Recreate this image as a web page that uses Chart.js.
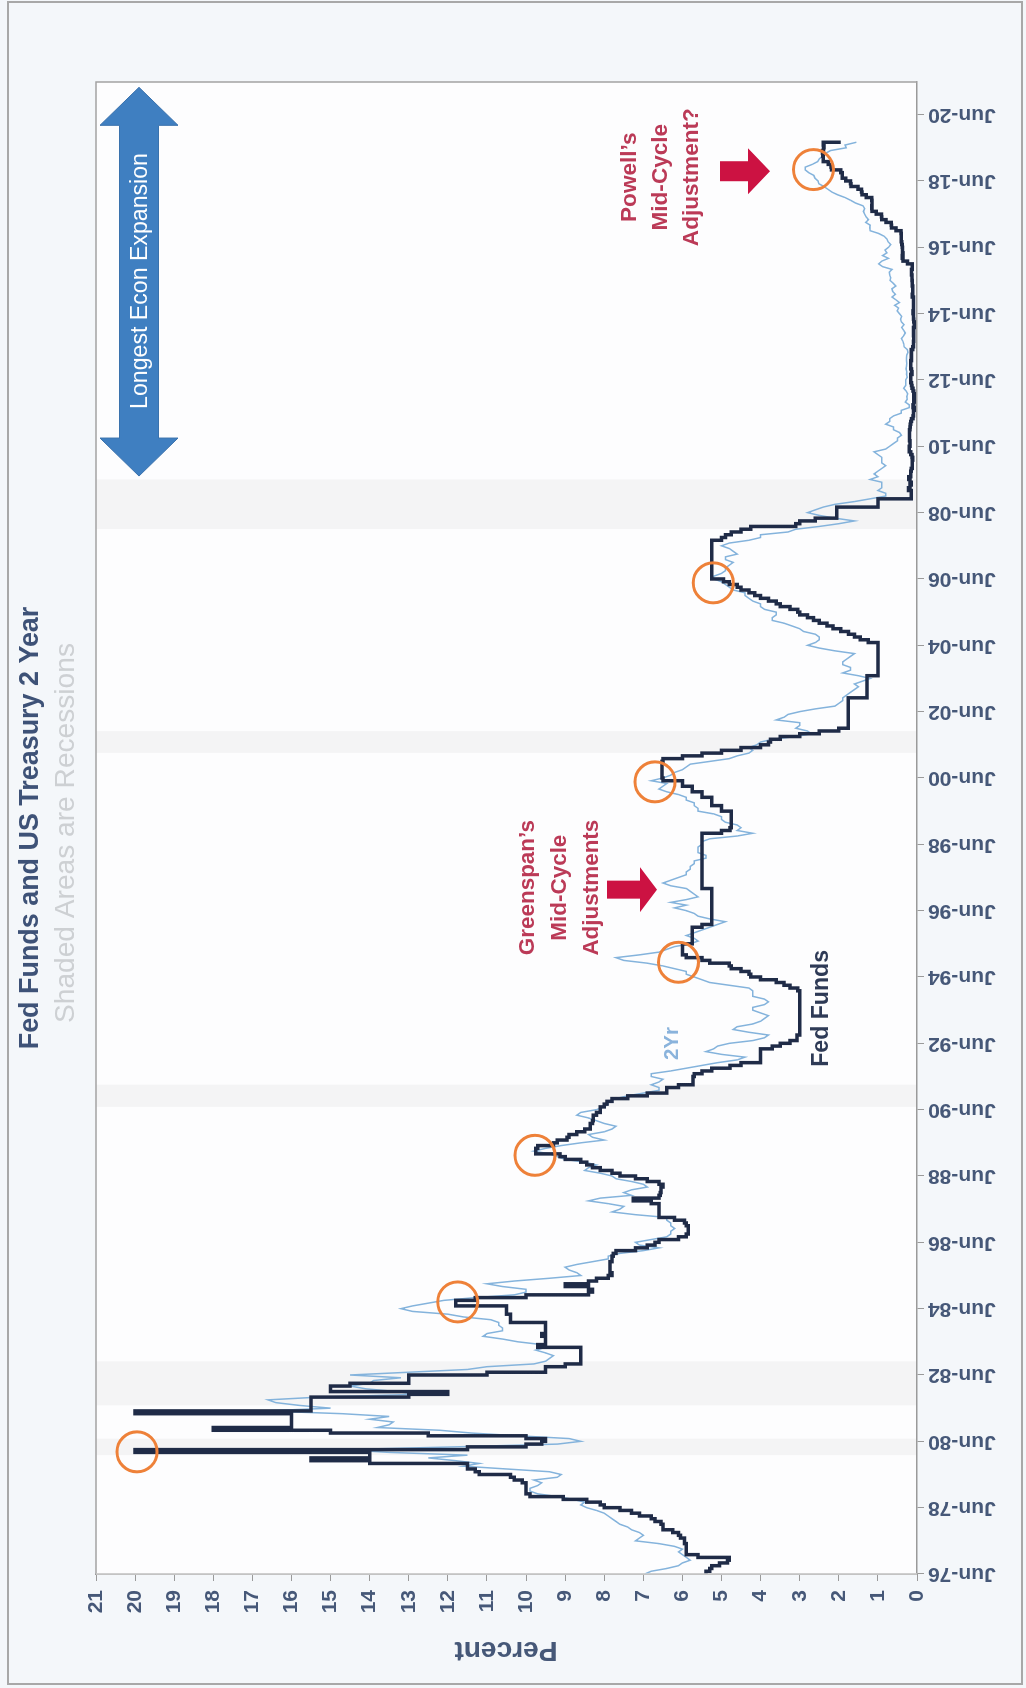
<!DOCTYPE html>
<html><head><meta charset="utf-8">
<script src="https://cdn.jsdelivr.net/npm/chart.js@4.4.1/dist/chart.umd.min.js"></script>
<style>
html,body{margin:0;padding:0;background:#f4f7fa;overflow:hidden;width:1026px;height:1688px;}
#wrap{position:absolute;left:0;top:1688px;width:1688px;height:1026px;transform-origin:0 0;transform:rotate(-90deg);}
canvas{display:block;}
</style></head><body>
<div id="wrap"><canvas id="c" width="1688" height="1026" style="width:1688px;height:1026px"></canvas></div>
<script>
// ---- DATA (monthly, first value = Jun 1976) ----
const startYear = 1976, startMonth = 6;
const fedFunds = [
 5.40,5.30,5.25,5.05,4.85,4.80,5.60,
 5.90,5.90,5.90,5.90,5.95,5.95,6.05,6.10,6.25,6.50,6.50,6.55,
 6.70,6.80,7.10,7.30,7.60,8.00,8.10,8.45,9.05,9.90,10.00,10.00,
 10.00,10.00,10.10,10.30,10.40,11.20,11.30,11.50,11.50,14.00,15.50,14.00,
 14.00,20.00,11.50,10.00,9.60,9.50,10.00,12.50,15.00,18.00,16.00,16.00,
 16.00,16.00,16.00,20.00,15.50,15.50,15.50,15.50,15.50,13.00,12.00,15.00,
 15.00,14.50,13.00,13.00,13.00,11.00,9.50,9.50,9.00,8.60,8.60,8.60,
 8.60,8.60,8.60,9.70,9.50,9.50,9.50,9.60,9.50,9.50,9.50,9.50,
 10.40,10.40,10.40,10.50,10.50,10.50,11.80,11.80,11.30,10.00,8.40,8.30,
 8.40,9.00,8.40,8.20,7.90,7.80,7.85,7.85,7.85,7.85,7.80,7.80,
 7.77,7.70,7.20,6.90,6.70,6.60,6.10,5.90,5.85,5.85,5.85,5.90,
 5.95,6.20,6.60,6.60,6.60,6.60,6.60,6.80,7.26,6.60,6.57,6.55,
 6.55,6.50,6.60,6.90,7.20,7.60,7.80,8.10,8.30,8.45,8.60,9.00,
 9.13,9.75,9.75,9.70,9.30,9.20,8.95,8.90,8.70,8.50,8.36,8.36,
 8.30,8.28,8.28,8.20,8.10,8.10,8.00,7.93,7.80,7.40,6.90,6.40,
 6.40,6.10,5.73,5.73,5.73,5.70,5.50,5.25,4.78,4.50,4.00,4.00,
 4.00,4.00,4.00,3.70,3.50,3.25,3.07,3.07,3.00,3.00,3.00,3.00,
 3.00,3.00,3.00,3.00,3.00,3.00,3.00,3.00,3.00,3.00,3.00,3.00,
 3.05,3.25,3.40,3.60,4.00,4.25,4.30,4.50,4.75,4.80,5.30,5.50,
 5.90,6.00,6.00,6.00,6.00,5.75,5.75,5.75,5.75,5.75,5.75,5.50,
 5.25,5.25,5.25,5.25,5.25,5.25,5.25,5.25,5.25,5.25,5.25,5.25,
 5.25,5.50,5.50,5.50,5.50,5.50,5.50,5.50,5.50,5.50,5.50,5.50,
 5.50,5.50,5.50,5.50,5.50,5.50,5.50,5.50,5.50,5.00,4.78,4.75,
 4.75,4.75,4.75,4.75,4.75,5.00,5.00,5.25,5.25,5.25,5.50,5.50,
 5.75,5.75,6.00,6.00,6.50,6.52,6.52,6.52,6.52,6.52,6.52,6.50,
 6.00,5.50,5.00,4.50,4.00,3.80,3.75,3.50,3.00,2.50,2.00,1.76,
 1.76,1.76,1.76,1.76,1.76,1.76,1.76,1.76,1.76,1.76,1.28,1.28,
 1.28,1.28,1.28,1.28,1.28,1.28,1.00,1.00,1.00,1.00,1.00,1.00,
 1.00,1.00,1.00,1.00,1.00,1.00,1.25,1.45,1.60,1.75,1.95,2.15,
 2.30,2.50,2.65,2.80,3.00,3.05,3.25,3.50,3.60,3.80,4.00,4.15,
 4.30,4.50,4.60,4.80,4.95,5.25,5.25,5.25,5.25,5.25,5.25,5.25,
 5.25,5.25,5.25,5.25,5.25,5.25,5.25,5.00,4.90,4.75,4.50,4.25,
 3.10,3.00,2.60,2.05,2.05,2.05,2.05,1.00,1.00,1.00,0.15,0.15,
 0.15,0.22,0.18,0.15,0.18,0.21,0.16,0.16,0.15,0.12,0.12,0.12,
 0.11,0.13,0.16,0.20,0.20,0.18,0.18,0.19,0.19,0.19,0.19,0.18,
 0.17,0.16,0.14,0.10,0.09,0.09,0.07,0.10,0.08,0.07,0.08,0.07,
 0.08,0.10,0.13,0.14,0.16,0.16,0.16,0.13,0.14,0.16,0.16,0.16,
 0.14,0.15,0.14,0.15,0.11,0.09,0.09,0.08,0.08,0.09,0.08,0.09,
 0.07,0.07,0.08,0.09,0.09,0.10,0.09,0.09,0.09,0.09,0.09,0.12,
 0.11,0.11,0.11,0.12,0.12,0.13,0.13,0.14,0.14,0.12,0.12,0.24,
 0.36,0.38,0.36,0.37,0.37,0.38,0.39,0.40,0.40,0.40,0.41,0.54,
 0.65,0.66,0.79,0.90,0.91,1.04,1.15,1.16,1.15,1.15,1.16,1.30,
 1.41,1.42,1.51,1.69,1.70,1.82,1.91,1.91,1.95,2.19,2.20,2.27,
 2.40,2.40,2.41,2.42,2.39,2.38,2.40,1.95
];
const twoYear = [
 6.96,6.80,6.40,6.10,6.00,5.80,5.90,
 6.00,6.10,6.00,6.20,6.60,7.20,7.10,7.00,7.10,7.30,7.40,7.60,
 7.70,7.80,7.90,8.00,8.20,8.45,8.60,8.50,8.80,9.20,9.70,9.90,
 9.90,9.70,9.60,9.80,9.20,9.10,9.40,10.50,11.60,11.20,11.80,12.50,
 11.50,13.50,14.70,11.80,9.20,8.60,8.90,10.20,11.40,12.20,13.80,13.50,
 13.40,14.00,13.50,14.70,16.70,15.00,15.80,16.40,16.60,15.30,12.80,13.30,
 14.10,14.50,14.00,13.90,13.20,14.50,13.00,11.50,11.00,9.80,9.50,9.40,
 9.30,9.50,9.75,9.50,9.60,10.20,10.60,11.10,11.00,10.60,10.60,10.70,
 10.70,10.90,11.60,12.00,12.90,13.20,12.90,12.50,12.10,11.30,10.30,10.00,
 10.00,10.60,11.00,10.30,9.40,8.60,8.70,8.90,9.00,8.70,8.30,7.90,
 7.90,7.60,7.00,6.60,7.10,7.20,6.80,6.40,6.30,6.30,6.20,6.30,
 6.30,6.40,6.40,7.20,7.80,7.60,7.50,7.90,8.40,8.10,7.30,7.50,
 7.30,6.90,7.00,7.30,7.70,7.80,8.10,8.50,8.40,8.20,8.50,9.00,
 9.20,9.40,9.80,9.50,9.10,8.60,8.00,8.30,8.40,8.00,7.80,7.70,
 8.00,8.20,8.40,8.70,8.60,8.20,8.00,7.90,7.90,7.70,7.40,7.00,
 6.60,6.60,6.80,6.60,6.50,6.80,6.80,6.30,5.90,5.50,5.10,4.60,
 4.40,5.00,5.40,5.20,5.10,4.80,4.20,3.90,3.80,4.30,4.70,4.60,
 4.20,4.00,3.90,3.80,4.00,4.20,4.20,3.90,3.80,3.90,4.20,4.20,
 4.20,4.30,4.80,5.30,5.50,5.70,5.90,5.90,6.20,6.50,6.90,7.50,
 7.70,7.10,6.60,6.40,6.20,5.80,5.60,5.70,5.90,5.70,5.50,5.30,
 5.10,4.90,5.30,5.60,5.70,5.90,6.20,5.90,6.30,5.90,5.60,5.70,
 5.80,5.90,6.30,6.50,6.30,6.10,5.90,5.90,5.80,5.80,5.70,5.70,
 5.40,5.40,5.60,5.60,5.60,5.50,5.50,5.30,4.60,4.20,4.60,4.50,
 4.60,4.90,5.00,5.00,5.20,5.60,5.60,5.70,5.70,5.90,5.90,6.10,
 6.40,6.60,6.50,6.40,6.80,6.50,6.30,6.20,6.00,5.90,5.80,5.30,
 4.80,4.60,4.30,4.20,4.30,4.10,4.00,3.70,3.10,2.70,2.80,3.10,
 3.00,3.00,3.60,3.40,3.30,3.00,2.60,2.10,2.00,1.90,1.90,1.80,
 1.70,1.60,1.50,1.60,1.40,1.20,1.50,1.90,1.70,1.70,1.90,1.90,
 1.80,1.70,1.60,2.10,2.50,2.80,2.60,2.50,2.50,2.60,2.90,3.00,
 3.20,3.40,3.70,3.70,3.60,3.60,3.90,4.00,4.00,4.20,4.30,4.40,
 4.40,4.70,4.80,4.90,5.00,5.20,5.20,5.00,4.90,4.90,4.80,4.70,
 4.90,4.90,4.60,4.70,4.80,5.00,4.80,4.30,4.00,4.00,3.30,3.10,
 2.50,2.00,1.60,2.10,2.50,2.80,2.60,2.40,2.10,1.60,1.20,0.80,
 0.80,1.00,0.90,0.90,0.90,1.20,1.00,1.10,1.00,0.90,0.80,0.90,
 0.90,0.90,1.00,1.10,0.80,0.70,0.60,0.50,0.50,0.40,0.45,0.60,
 0.60,0.80,0.70,0.70,0.60,0.40,0.40,0.20,0.20,0.30,0.25,0.26,
 0.24,0.28,0.34,0.29,0.29,0.29,0.25,0.27,0.26,0.28,0.27,0.26,
 0.27,0.27,0.26,0.23,0.25,0.33,0.34,0.36,0.40,0.34,0.30,0.34,
 0.39,0.33,0.40,0.42,0.39,0.45,0.51,0.47,0.57,0.45,0.54,0.64,
 0.55,0.62,0.64,0.54,0.61,0.69,0.67,0.70,0.71,0.64,0.88,0.98,
 0.90,0.73,0.88,0.77,0.82,0.73,0.67,0.74,0.77,0.84,0.98,1.20,
 1.21,1.20,1.31,1.24,1.30,1.34,1.37,1.34,1.38,1.57,1.70,1.84,
 2.03,2.18,2.28,2.38,2.51,2.53,2.61,2.64,2.77,2.86,2.86,2.68,
 2.54,2.50,2.41,2.34,2.21,1.81,1.84,1.55
];
const circleDates  = [1980.10, 1984.62, 1989.04, 1994.86, 2000.30, 2006.30, 2018.76];
const circleValues = [19.95, 11.75, 9.77, 6.10, 6.70, 5.21, 2.65];
const recessionStarts = [1980.00, 1981.50, 1990.50, 2001.17, 2007.92];
const recessionEnds   = [1980.50, 1982.83, 1991.17, 2001.83, 2009.42];
const xTickLabels = ['Jun-76','Jun-78','Jun-80','Jun-82','Jun-84','Jun-86','Jun-88','Jun-90','Jun-92','Jun-94','Jun-96','Jun-98','Jun-00','Jun-02','Jun-04','Jun-06','Jun-08','Jun-10','Jun-12','Jun-14','Jun-16','Jun-18','Jun-20'];
const xMin = startYear + (startMonth - 1) / 12;
const xMax = 2021.4;

const toPoints = arr => arr.map((v, i) => ({x: xMin + i / 12, y: v}));

// ---- STYLE ----
const FONT = "'Liberation Sans', Arial, sans-serif";
const NARROW = "'Liberation Sans Narrow', 'Liberation Sans', Arial, sans-serif";
const AXIS_COLOR = '#465878';
const RED_TEXT = '#bb3a57';
const RED_ARROW = '#cc1242';

function fitSize(ctx, text, weight, family, target) {
  ctx.font = weight + ' 100px ' + family;
  return 100 * target / ctx.measureText(text).width;
}
function drawLines(ctx, lines, cx, cy, size, weight, family, color, lh) {
  ctx.font = weight + ' ' + size + 'px ' + family;
  ctx.fillStyle = color; ctx.textAlign = 'center'; ctx.textBaseline = 'middle';
  lines.forEach((l, i) => ctx.fillText(l, cx, cy + i * lh));
}

const deco = {
  id: 'deco',
  beforeDraw(chart) {
    const {ctx, chartArea: a, scales: {x}} = chart;
    ctx.save();
    ctx.fillStyle = '#f4f7fa'; ctx.fillRect(0, 0, chart.width, chart.height);
    ctx.fillStyle = '#fdfdfe'; ctx.fillRect(a.left, a.top, a.right - a.left, a.bottom - a.top);
    ctx.fillStyle = 'rgba(0,0,0,0.035)';
    recessionStarts.forEach((s, i) => {
      const x0 = x.getPixelForValue(s), x1 = x.getPixelForValue(recessionEnds[i]);
      ctx.fillRect(x0, a.top, x1 - x0, a.bottom - a.top);
    });
    ctx.strokeStyle = '#a8a8a8'; ctx.lineWidth = 2;
    ctx.strokeRect(4, 8, 1682, 1014);
    ctx.restore();
  },
  afterDraw(chart) {
    const {ctx, chartArea: a, scales: {x, y}} = chart;
    ctx.save();
    // plot border
    ctx.strokeStyle = '#a3a3a3'; ctx.lineWidth = 1.5;
    ctx.beginPath(); ctx.moveTo(a.left, a.top); ctx.lineTo(a.right, a.top); ctx.lineTo(a.right, a.bottom); ctx.stroke();
    ctx.strokeStyle = '#d0d0d0';
    ctx.beginPath(); ctx.moveTo(a.left, a.top); ctx.lineTo(a.left, a.bottom); ctx.stroke();

    // Title & subtitle
    let s = fitSize(ctx, 'Fed Funds and US Treasury 2 Year', 'bold', NARROW, 443);
    drawLines(ctx, ['Fed Funds and US Treasury 2 Year'], 860, 31, s, 'bold', NARROW, '#3e5277', 0);
    s = fitSize(ctx, 'Shaded Areas are Recessions', 'normal', FONT, 380);
    drawLines(ctx, ['Shaded Areas are Recessions'], 855, 66, s, 'normal', FONT, '#cdd0d3', 0);
    // Percent axis title
    s = fitSize(ctx, 'Percent', 'bold', FONT, 103);
    ctx.save(); ctx.translate(38, 506); ctx.rotate(-Math.PI / 2);
    drawLines(ctx, ['Percent'], 0, 0, s, 'bold', FONT, AXIS_COLOR, 0);
    ctx.restore();

    // Blue double arrow (Longest Econ Expansion)
    const bx0 = x.getPixelForValue(2009.52), bx1 = x.getPixelForValue(2021.24);
    const bc = y.getPixelForValue(19.9);
    const hw = 39, sw = 19.5, hl = 38;
    ctx.fillStyle = '#3f7fc1';
    ctx.beginPath();
    ctx.moveTo(bx0, bc);
    ctx.lineTo(bx0 + hl, bc - hw); ctx.lineTo(bx0 + hl, bc - sw);
    ctx.lineTo(bx1 - hl, bc - sw); ctx.lineTo(bx1 - hl, bc - hw);
    ctx.lineTo(bx1, bc);
    ctx.lineTo(bx1 - hl, bc + hw); ctx.lineTo(bx1 - hl, bc + sw);
    ctx.lineTo(bx0 + hl, bc + sw); ctx.lineTo(bx0 + hl, bc + hw);
    ctx.closePath(); ctx.fill();
    ctx.strokeStyle = '#3a72ad'; ctx.lineWidth = 1; ctx.stroke();
    s = fitSize(ctx, 'Longest Econ Expansion', 'normal', FONT, 256);
    drawLines(ctx, ['Longest Econ Expansion'], x.getPixelForValue(2015.4), y.getPixelForValue(19.85), s, 'normal', FONT, '#ffffff', 0);

    // red arrows (pointing toward lower percent)
    function redArrow(t, p0, p1, shaftHalf, headHalf, headLen) {
      const cx = x.getPixelForValue(t), y0 = y.getPixelForValue(p0), y1 = y.getPixelForValue(p1);
      ctx.fillStyle = RED_ARROW;
      ctx.beginPath();
      ctx.moveTo(cx - shaftHalf, y0); ctx.lineTo(cx + shaftHalf, y0);
      ctx.lineTo(cx + shaftHalf, y1 - headLen); ctx.lineTo(cx + headHalf, y1 - headLen);
      ctx.lineTo(cx, y1); ctx.lineTo(cx - headHalf, y1 - headLen);
      ctx.lineTo(cx - shaftHalf, y1 - headLen); ctx.closePath(); ctx.fill();
    }
    redArrow(1997.05, 7.93, 6.65, 9, 22.5, 17);
    redArrow(2018.71, 5.04, 3.76, 10, 23, 22);

    // Greenspan text
    s = fitSize(ctx, 'Adjustments', 'bold', FONT, 136);
    const gy0 = y.getPixelForValue(9.95), gy1 = y.getPixelForValue(9.13);
    drawLines(ctx, ["Greenspan\u2019s", 'Mid-Cycle', 'Adjustments'], x.getPixelForValue(1997.11), gy0, s, 'bold', FONT, RED_TEXT, gy1 - gy0);
    // Powell text
    s = fitSize(ctx, 'Adjustment?', 'bold', FONT, 138);
    const py0 = y.getPixelForValue(7.34), py1 = y.getPixelForValue(6.57);
    drawLines(ctx, ["Powell\u2019s", 'Mid-Cycle', 'Adjustment?'], x.getPixelForValue(2018.53), py0, s, 'bold', FONT, RED_TEXT, (py1 - py0) * 1.03);

    // series labels
    s = fitSize(ctx, '2Yr', 'bold', FONT, 33);
    drawLines(ctx, ['2Yr'], x.getPixelForValue(1992.41), y.getPixelForValue(6.27), s, 'bold', FONT, '#8ab3dc', 0);
    s = fitSize(ctx, 'Fed Funds', 'bold', FONT, 117);
    drawLines(ctx, ['Fed Funds'], x.getPixelForValue(1993.47), y.getPixelForValue(2.43), s, 'bold', FONT, '#2e3a56', 0);
    ctx.restore();
  }
};

Chart.defaults.font.family = FONT;

new Chart(document.getElementById('c'), {
  type: 'line',
  data: {
    datasets: [
      {
        label: 'Mid-cycle', data: circleDates.map((d, i) => ({x: d, y: circleValues[i]})),
        showLine: false, pointRadius: 20, pointHoverRadius: 20, pointBorderWidth: 3,
        pointBorderColor: '#ee8139', pointBackgroundColor: 'rgba(0,0,0,0)', clip: false
      },
      {
        label: 'Fed Funds', data: toPoints(fedFunds), stepped: true,
        borderColor: '#1f2b47', borderWidth: 3.5, pointRadius: 0, fill: false
      },
      {
        label: '2Yr', data: toPoints(twoYear),
        borderColor: '#84b3dc', borderWidth: 1.5, pointRadius: 0, fill: false, tension: 0
      }
    ]
  },
  options: {
    responsive: false, animation: false, devicePixelRatio: 1,
    layout: {padding: {top: 96, right: 82, left: 0, bottom: 0}},
    plugins: {legend: {display: false}, tooltip: {enabled: false}},
    scales: {
      x: {
        type: 'linear', min: xMin, max: xMax,
        afterBuildTicks: sc => { sc.ticks = xTickLabels.map((_, i) => ({value: xMin + 2 * i})); },
        afterFit: sc => { sc.height = 109; },
        ticks: {
          autoSkip: false, minRotation: 90, maxRotation: 90, padding: 4,
          color: AXIS_COLOR, font: {size: 21, weight: 'bold', family: FONT},
          callback: (v, i) => xTickLabels[i]
        },
        grid: {drawOnChartArea: false, drawTicks: true, tickLength: 7, color: '#9a9a9a'},
        border: {color: '#9a9a9a', width: 1.5}
      },
      y: {
        min: 0, max: 21,
        afterFit: sc => { sc.width = 114; },
        ticks: {stepSize: 1, padding: 9, color: AXIS_COLOR, font: {size: 21, weight: 'bold', family: FONT}},
        grid: {drawOnChartArea: false, drawTicks: true, tickLength: 7, color: '#9a9a9a'},
        border: {color: '#9a9a9a', width: 1.5}
      }
    }
  },
  plugins: [deco]
});
</script>
</body></html>
